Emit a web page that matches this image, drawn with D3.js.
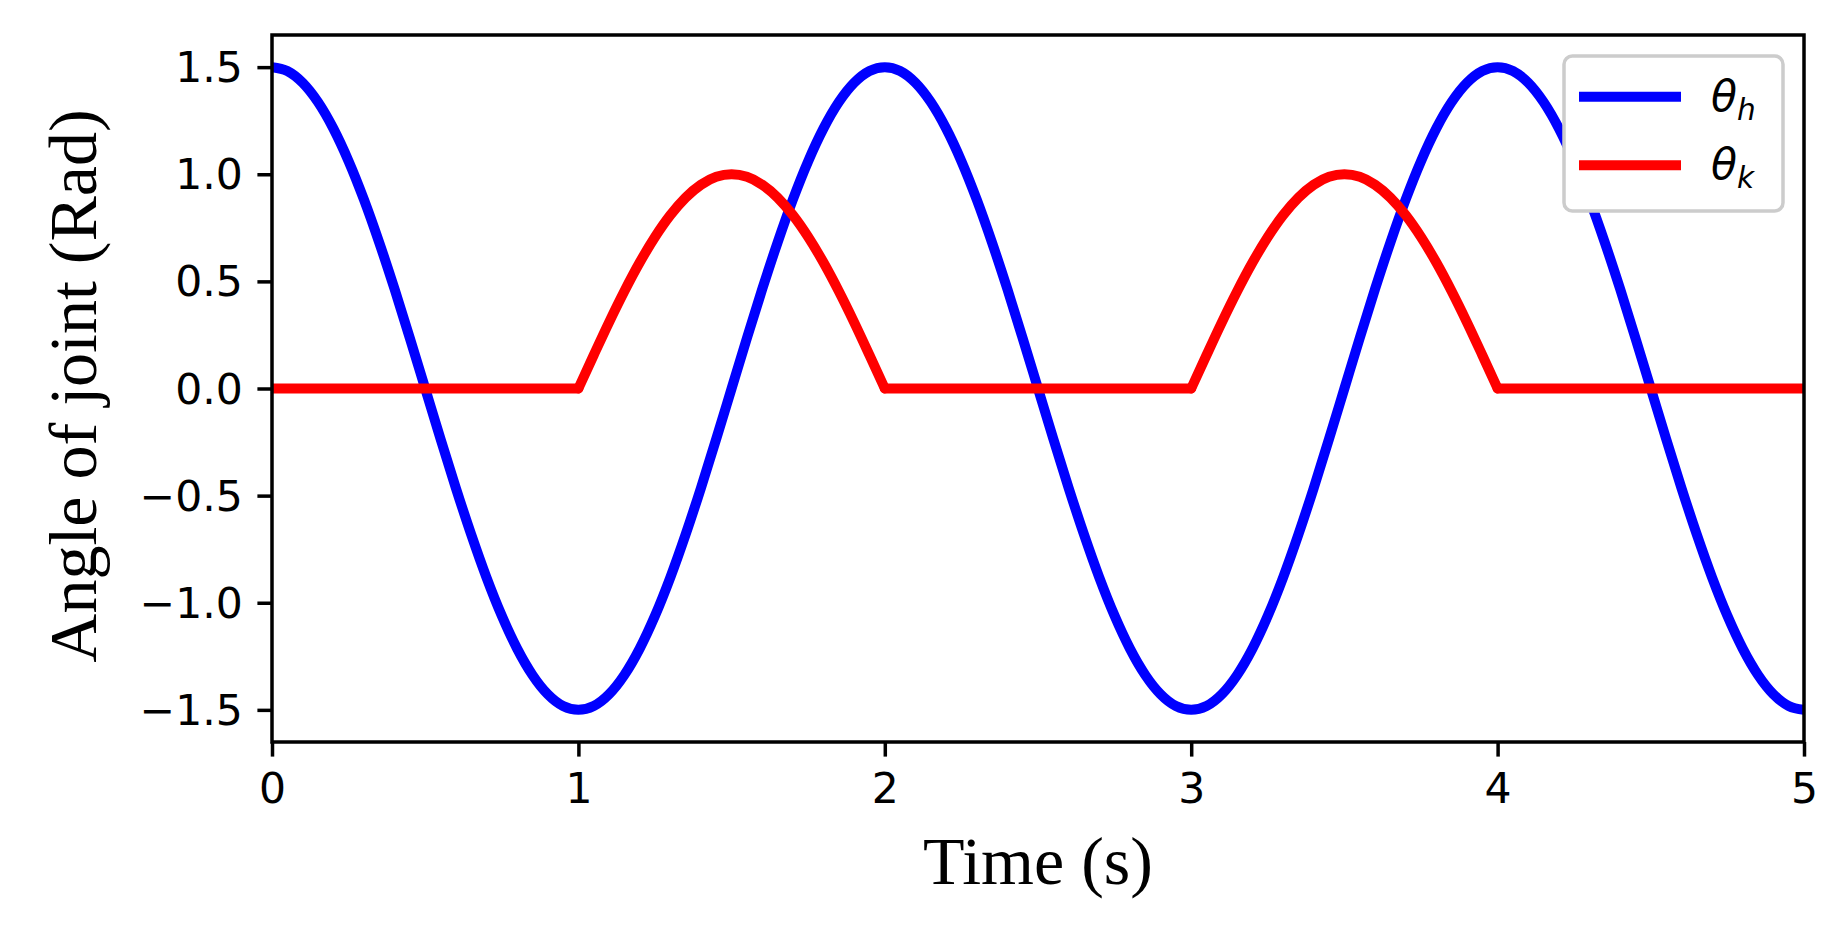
<!DOCTYPE html>
<html>
<head>
<meta charset="utf-8">
<script src="https://cdn.jsdelivr.net/npm/d3@7"></script>
<style>
  html, body { margin: 0; padding: 0; background: #fff; }
  svg { display: block; }
</style>
</head>
<body>
<svg id="chart" width="1840" height="928"></svg>
<script>
// ---- Data ----
// hip angle θh, sampled every 0.05 s from 0 to 5 s
const timeH = d3.range(0, 101).map(i => i * 0.05);
const thetaH = [
  1.500, 1.482, 1.427, 1.337, 1.214, 1.061, 0.882, 0.681, 0.464, 0.235,
  0.000,-0.235,-0.464,-0.681,-0.882,-1.061,-1.214,-1.337,-1.427,-1.482,
 -1.500,-1.482,-1.427,-1.337,-1.214,-1.061,-0.882,-0.681,-0.464,-0.235,
  0.000, 0.235, 0.464, 0.681, 0.882, 1.061, 1.214, 1.337, 1.427, 1.482,
  1.500, 1.482, 1.427, 1.337, 1.214, 1.061, 0.882, 0.681, 0.464, 0.235,
  0.000,-0.235,-0.464,-0.681,-0.882,-1.061,-1.214,-1.337,-1.427,-1.482,
 -1.500,-1.482,-1.427,-1.337,-1.214,-1.061,-0.882,-0.681,-0.464,-0.235,
  0.000, 0.235, 0.464, 0.681, 0.882, 1.061, 1.214, 1.337, 1.427, 1.482,
  1.500, 1.482, 1.427, 1.337, 1.214, 1.061, 0.882, 0.681, 0.464, 0.235,
  0.000,-0.235,-0.464,-0.681,-0.882,-1.061,-1.214,-1.337,-1.427,-1.482,
 -1.500];

// knee angle θk
const timeK = [0, 1.00,1.05,1.10,1.15,1.20,1.25,1.30,1.35,1.40,1.45,1.50,1.55,1.60,1.65,1.70,1.75,1.80,1.85,1.90,1.95,2.00,
  3.00,3.05,3.10,3.15,3.20,3.25,3.30,3.35,3.40,3.45,3.50,3.55,3.60,3.65,3.70,3.75,3.80,3.85,3.90,3.95,4.00, 5];
const thetaK = [0, 0,0.156,0.309,0.454,0.588,0.707,0.809,0.891,0.951,0.988,1.000,0.988,0.951,0.891,0.809,0.707,0.588,0.454,0.309,0.156,0,
  0,0.156,0.309,0.454,0.588,0.707,0.809,0.891,0.951,0.988,1.000,0.988,0.951,0.891,0.809,0.707,0.588,0.454,0.309,0.156,0, 0];

const xTicks = [0,1,2,3,4,5];
const yTicks = [-1.5,-1.0,-0.5,0.0,0.5,1.0,1.5];
const seriesNames = ["h","k"];
const seriesColors = ["#0000ff","#ff0000"];

// ---- Layout ----
const L = 272, R = 1804, T = 35, B = 742;
const svg = d3.select("#chart");
const x = d3.scaleLinear().domain([0,5]).range([L,R]);
const y = d3.scaleLinear().domain([-1.65,1.65]).range([B,T]);

const tickFont = "'DejaVu Sans', sans-serif";
const tickSize = 42.5;
const spineW = 3.5;
const lineW = 10;

svg.append("defs").append("clipPath").attr("id","clip")
  .append("rect").attr("x",L).attr("y",T).attr("width",R-L).attr("height",B-T);

// split a series into flat (zero) runs and curved runs so kinks stay sharp
function splitPieces(ts, vs) {
  const pieces = [];
  let cur = [[ts[0], vs[0]]];
  for (let i = 1; i < ts.length; i++) {
    const p = [ts[i], vs[i]];
    cur.push(p);
    if (i + 1 < ts.length) {
      const flatPrev = vs[i-1] === 0 && vs[i] === 0;
      const flatNext = vs[i] === 0 && vs[i+1] === 0;
      if (flatPrev !== flatNext) { pieces.push(cur); cur = [p]; }
    }
  }
  pieces.push(cur);
  return pieces;
}

const line = d3.line().x(d => x(d[0])).y(d => y(d[1])).curve(d3.curveMonotoneX);
const g = svg.append("g").attr("clip-path","url(#clip)");
g.append("path").attr("d", line(timeH.map((t,i)=>[t, thetaH[i]]))).attr("fill","none")
  .attr("stroke",seriesColors[0]).attr("stroke-width",lineW)
  .attr("stroke-linejoin","round").attr("stroke-linecap","round");
splitPieces(timeK, thetaK).forEach(piece => {
  g.append("path").attr("d", line(piece)).attr("fill","none")
    .attr("stroke",seriesColors[1]).attr("stroke-width",lineW)
    .attr("stroke-linejoin","round").attr("stroke-linecap","round");
});

// axes
const xAxis = d3.axisBottom(x).tickValues(xTicks).tickFormat(d3.format("d"))
  .tickSize(14.6).tickPadding(14.6);
const yAxis = d3.axisLeft(y).tickValues(yTicks)
  .tickFormat(d => d3.format(".1f")(d).replace("-", "\u2212"))
  .tickSize(14.6).tickPadding(14.6);

const gx = svg.append("g").attr("transform",`translate(0,${B})`).call(xAxis);
const gy = svg.append("g").attr("transform",`translate(${L},0)`).call(yAxis);
[gx, gy].forEach(a => {
  a.select(".domain").remove();
  a.selectAll(".tick line").attr("stroke","#000").attr("stroke-width",spineW);
  a.selectAll(".tick text").attr("fill","#000")
    .style("font-family",tickFont).style("font-size",tickSize+"px");
});
gx.selectAll(".tick text").attr("dy",null).attr("y", 14.6+14.6+31.5);
gy.selectAll(".tick text").attr("dy",null).attr("dominant-baseline","central");

// spines
svg.append("rect").attr("x",L).attr("y",T).attr("width",R-L).attr("height",B-T)
  .attr("fill","none").attr("stroke","#000").attr("stroke-width",spineW);

// axis labels
const serif = "'Liberation Serif', 'Times New Roman', serif";
svg.append("text").attr("x",(L+R)/2).attr("y",884)
  .attr("text-anchor","middle").style("font-family",serif).style("font-size","68px")
  .text("Time (s)");
svg.append("text").attr("transform",`translate(96,386) rotate(-90)`)
  .attr("text-anchor","middle").style("font-family",serif).style("font-size","68px")
  .text("Angle of joint (Rad)");

// legend
const lg = svg.append("g");
lg.append("rect").attr("x",1564).attr("y",56).attr("width",219).attr("height",155)
  .attr("rx",8.3).attr("ry",8.3)
  .attr("fill","#fff")
  .attr("stroke","#cccccc").attr("stroke-width",spineW);
const rowY = [96.7, 165.3];
seriesNames.forEach((s,i) => {
  lg.append("line").attr("x1",1579).attr("x2",1681).attr("y1",rowY[i]).attr("y2",rowY[i])
    .attr("stroke",seriesColors[i]).attr("stroke-width",lineW);
  const t = lg.append("text").attr("x",1711).attr("y",rowY[i]+14)
    .style("font-family",tickFont).style("font-size",tickSize+"px").style("font-style","italic");
  t.append("tspan").text("\u03b8");
  t.append("tspan").attr("dy",9).style("font-size","29.5px").text(s);
});
</script>
</body>
</html>
